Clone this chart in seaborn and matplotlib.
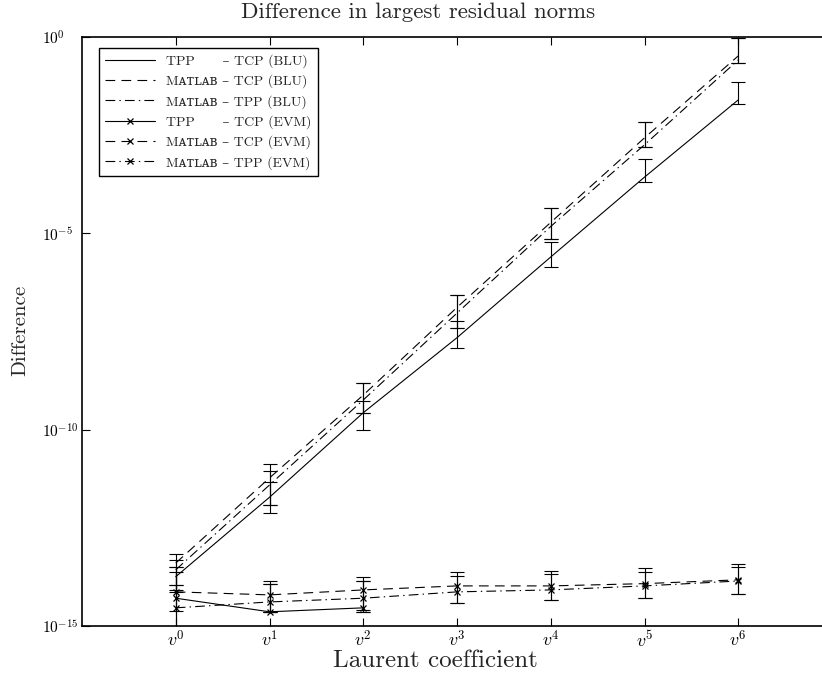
import numpy as np
import pandas as pd
import matplotlib
matplotlib.use("Agg")
import matplotlib.pyplot as plt
import seaborn as sns

# Laurent coefficients v^0 .. v^6
coeffs = [0, 1, 2, 3, 4, 5, 6]
tick_labels = [r"$v^{%d}$" % k for k in coeffs]

# BLU series: value, lower and upper error bounds
tpp_tcp_blu = [1.8e-14, 1.9e-12, 2.7e-10, 2.2e-8, 2.5e-6, 2.7e-4, 2.5e-2]
tpp_tcp_blu_lo = [7.4e-15, 7.6e-13, 1.0e-10, 1.2e-8, 1.4e-6, 2.0e-4, 2.0e-2]
tpp_tcp_blu_hi = [3.2e-14, 4.7e-12, 5.4e-10, 5.9e-8, 6.0e-6, 7.8e-4, 7.1e-2]

mat_tcp_blu = [4.0e-14, 5.9e-12, 7.6e-10, 1.3e-7, 1.9e-5, 2.7e-3, 3.3e-1]
mat_tcp_blu_lo = [1.1e-14, 1.2e-12, 2.7e-10, 3.9e-8, 7.2e-6, 1.6e-3, 2.2e-1]
mat_tcp_blu_hi = [6.8e-14, 1.3e-11, 1.5e-9, 2.7e-7, 4.4e-5, 6.8e-3, 9.4e-1]

mat_tpp_blu = [2.7e-14, 3.9e-12, 5.7e-10, 9.3e-8, 1.5e-5, 1.8e-3, 2.6e-1]
mat_tpp_blu_lo = [8.3e-15, 1.2e-12, 2.7e-10, 3.9e-8, 7.2e-6, 1.6e-3, 2.2e-1]
mat_tpp_blu_hi = [4.8e-14, 8.9e-12, 1.5e-9, 2.7e-7, 4.4e-5, 6.8e-3, 9.4e-1]

# EVM series (TPP - TCP is exactly zero from v^3 on)
tpp_tcp_evm = [5.1e-15, 2.3e-15, 2.9e-15, np.nan, np.nan, np.nan, np.nan]
tpp_tcp_evm_lo = [1.0e-16, 2.3e-15, 2.3e-15, np.nan, np.nan, np.nan, np.nan]
tpp_tcp_evm_hi = [1.1e-14, 1.2e-14, 1.4e-14, np.nan, np.nan, np.nan, np.nan]

mat_tcp_evm = [7.4e-15, 6.2e-15, 8.3e-15, 1.05e-14, 1.05e-14, 1.2e-14, 1.5e-14]
mat_tcp_evm_lo = [2.4e-15, 2.3e-15, 2.6e-15, 3.9e-15, 4.6e-15, 5.1e-15, 6.6e-15]
mat_tcp_evm_hi = [3.2e-14, 1.4e-14, 1.8e-14, 2.4e-14, 2.5e-14, 3.0e-14, 3.8e-14]

mat_tpp_evm = [2.9e-15, 4.1e-15, 5.1e-15, 7.4e-15, 8.3e-15, 1.05e-14, 1.4e-14]
mat_tpp_evm_lo = [1.0e-16, 2.3e-15, 2.3e-15, 3.9e-15, 4.6e-15, 5.1e-15, 6.6e-15]
mat_tpp_evm_hi = [2.4e-14, 1.2e-14, 1.4e-14, 1.9e-14, 2.1e-14, 2.4e-14, 3.2e-14]

MATLAB = "M\u1d00\u1d1b\u029f\u1d00\u0299"

series = [
    ("TPP      \u2013 TCP (BLU)", tpp_tcp_blu, tpp_tcp_blu_lo, tpp_tcp_blu_hi, "-", None),
    (MATLAB + " \u2013 TCP (BLU)", mat_tcp_blu, mat_tcp_blu_lo, mat_tcp_blu_hi, "--", None),
    (MATLAB + " \u2013 TPP (BLU)", mat_tpp_blu, mat_tpp_blu_lo, mat_tpp_blu_hi, "-.", None),
    ("TPP      \u2013 TCP (EVM)", tpp_tcp_evm, tpp_tcp_evm_lo, tpp_tcp_evm_hi, "-", "x"),
    (MATLAB + " \u2013 TCP (EVM)", mat_tcp_evm, mat_tcp_evm_lo, mat_tcp_evm_hi, "--", "x"),
    (MATLAB + " \u2013 TPP (EVM)", mat_tpp_evm, mat_tpp_evm_lo, mat_tpp_evm_hi, "-.", "x"),
]

dash_styles = {"-": "-", "--": (0, (7, 4.5)), "-.": (0, (7, 3, 1, 3))}

sns.set_theme(style="ticks")
plt.rcParams["font.family"] = ["cmr10", "DejaVu Serif", "DejaVu Sans"]
plt.rcParams["mathtext.fontset"] = "cm"
plt.rcParams["axes.formatter.use_mathtext"] = True
plt.rcParams["lines.scale_dashes"] = False

fig = plt.figure(figsize=(8.22, 6.73), dpi=100)
ax = fig.add_axes([82 / 822, 47 / 673, 750 / 822, 589 / 673])
ax.set_yscale("log")

handles = []
for label, vals, lo, hi, ls, mk in series:
    df = pd.DataFrame({"coef": coeffs, "diff": vals}).dropna()
    sns.lineplot(data=df, x="coef", y="diff", ax=ax, color="black",
                 linewidth=0.8, linestyle=dash_styles[ls], marker=mk,
                 markersize=5, markeredgewidth=0.9, markeredgecolor="black",
                 label=label, legend=False)
    handles.append(ax.lines[-1])
    v = np.array(vals)
    yerr = np.vstack([v - np.array(lo), np.array(hi) - v])
    ax.errorbar(coeffs, vals, yerr=yerr, fmt="none", ecolor="black",
                elinewidth=0.8, capsize=4.7, capthick=0.8, label="_nolegend_")

ax.set_xlim(-1, 7)
ax.set_ylim(1e-15, 1e0)
ax.set_xticks(coeffs)
ax.set_xticklabels(tick_labels)
ax.set_yticks([1e-15, 1e-10, 1e-5, 1e0])
ax.set_yticklabels([r"$10^{-15}$", r"$10^{-10}$", r"$10^{-5}$", r"$10^{0}$"])
ax.yaxis.set_minor_locator(matplotlib.ticker.NullLocator())
ax.tick_params(axis="both", direction="in", length=6, width=0.8,
               top=True, right=False, colors="black")
ax.tick_params(axis="y", pad=29, labelsize=11)
for t in ax.get_yticklabels():
    t.set_ha("left")
ax.tick_params(axis="x", pad=2, labelsize=13)
for sp in ax.spines.values():
    sp.set_linewidth(1.2)
    sp.set_color("black")
ax.spines["right"].set_visible(False)

ax.set_xlabel("Laurent coefficient", fontsize=18, va="center")
ax.xaxis.set_label_coords((435 - 82) / 750, (626 - 661) / 589)
ax.set_ylabel("Difference", fontsize=15, va="center")
ax.yaxis.set_label_coords((20 - 82) / 750, (626 - 330) / 589)
fig.text(418 / 822, 1 - 12 / 673, "Difference in largest residual norms",
         fontsize=16.5, ha="center", va="center")

leg = ax.legend(handles=handles, loc="upper left",
                bbox_to_anchor=((99 - 82) / 750, (626 - 48) / 589),
                borderaxespad=0, fontsize=10, handlelength=3.6,
                handletextpad=0.8, labelspacing=0.47, fancybox=False,
                framealpha=1, edgecolor="black", borderpad=0.45)
leg.get_frame().set_linewidth(1.0)

fig.savefig("out.png", dpi=100)
